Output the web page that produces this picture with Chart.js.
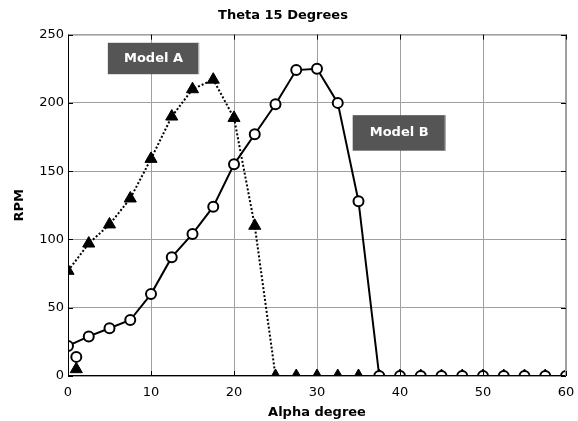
<!DOCTYPE html>
<html>
<head>
<meta charset="utf-8">
<script src="https://cdn.jsdelivr.net/npm/chart.js@4"></script>
<style>
  html, body { margin: 0; padding: 0; background: #fff; }
  #wrap { width: 578px; height: 421px; }
</style>
</head>
<body>
<div id="wrap"><canvas id="grafico"></canvas></div>
<script>
// datos del grafico
var alpha = [0, 2.5, 5, 7.5, 10, 12.5, 15, 17.5, 20, 22.5, 25, 27.5, 30, 32.5, 35, 37.5, 40, 42.5, 45, 47.5, 50, 52.5, 55, 57.5, 60];
var modelA = [77, 97, 111, 130, 159, 190, 210, 217, 189, 110, 0, 0, 0, 0, 0, 0, 0, 0, 0, 0, 0, 0, 0, 0, 0];
var modelB = [22, 29, 35, 41, 60, 87, 104, 124, 155, 177, 199, 224, 225, 200, 128, 0, 0, 0, 0, 0, 0, 0, 0, 0, 0];
// puntos sueltos cerca de alpha = 1
var extraAlpha = [1];
var extraA = [5];
var extraB = [14];

var xTicks = [0, 10, 20, 30, 40, 50, 60];
var yTicks = [0, 50, 100, 150, 200, 250];

var labels = [
  { text: "Model A", x0: 4.8, x1: 15.8, y0: 221, y1: 244 },
  { text: "Model B", x0: 34.3, x1: 45.5, y0: 165, y1: 191 }
];

function pares(xs, ys) {
  return xs.map(function (x, i) { return { x: x, y: ys[i] }; });
}

var fuente = "'DejaVu Sans', Arial, sans-serif";

// cajas de texto "Model A" / "Model B"
var cajas = {
  id: "cajas",
  afterDatasetsDraw: function (chart) {
    var c = chart.ctx, xs = chart.scales.x, ys = chart.scales.y;
    c.save();
    labels.forEach(function (l) {
      var left = xs.getPixelForValue(l.x0), right = xs.getPixelForValue(l.x1);
      var top = ys.getPixelForValue(l.y1), bottom = ys.getPixelForValue(l.y0);
      c.fillStyle = "#555555";
      c.fillRect(left, top, right - left, bottom - top);
      c.strokeStyle = "#bdbdbd";
      c.lineWidth = 1;
      c.beginPath();
      c.moveTo(right - 0.5, top);
      c.lineTo(right - 0.5, bottom);
      c.stroke();
      c.fillStyle = "#ffffff";
      c.font = "bold 13px " + fuente;
      c.textAlign = "center";
      c.textBaseline = "middle";
      c.fillText(l.text, (left + right) / 2, (top + bottom) / 2);
    });
    c.restore();
  }
};

// marco y ticks hacia adentro (estilo matlab)
var marco = {
  id: "marco",
  afterDatasetsDraw: function (chart) {
    var c = chart.ctx, a = chart.chartArea, xs = chart.scales.x, ys = chart.scales.y;
    var l = a.left + 0.5, r = a.right - 0.5, t = a.top + 0.5, b = a.bottom - 0.5;
    c.save();
    c.lineWidth = 1;
    // arriba y derecha en gris
    c.strokeStyle = "#a0a0a0";
    c.beginPath();
    c.moveTo(l, t); c.lineTo(r, t); c.lineTo(r, b);
    c.stroke();
    // izquierda y abajo en negro
    c.strokeStyle = "#000";
    c.beginPath();
    c.moveTo(l, t); c.lineTo(l, b); c.lineTo(r, b);
    c.stroke();
    c.beginPath();
    xTicks.forEach(function (v) {
      var p = Math.round(xs.getPixelForValue(v)) + 0.5;
      c.moveTo(p, a.bottom); c.lineTo(p, a.bottom - 5);
      c.moveTo(p, a.top); c.lineTo(p, a.top + 5);
    });
    yTicks.forEach(function (v) {
      var p = Math.round(ys.getPixelForValue(v)) + 0.5;
      c.moveTo(a.left, p); c.lineTo(a.left + 5, p);
      c.moveTo(a.right, p); c.lineTo(a.right - 5, p);
    });
    c.stroke();
    c.restore();
  }
};

new Chart(document.getElementById("grafico"), {
  type: "line",
  data: {
    datasets: [
      {
        label: "Model B",
        data: pares(alpha, modelB),
        borderColor: "#000",
        borderWidth: 2,
        pointStyle: "circle",
        pointRadius: 5,
        pointBorderWidth: 2,
        pointBackgroundColor: "#fff",
        pointBorderColor: "#000",
        order: 0
      },
      {
        label: "Model B extra",
        data: pares(extraAlpha, extraB),
        showLine: false,
        pointStyle: "circle",
        pointRadius: 5,
        pointBorderWidth: 2,
        pointBackgroundColor: "#fff",
        pointBorderColor: "#000",
        order: 0
      },
      {
        label: "Model A",
        data: pares(alpha, modelA),
        borderColor: "#000",
        borderWidth: 2,
        borderDash: [2, 2],
        pointStyle: "triangle",
        pointRadius: 7,
        pointBorderWidth: 1,
        pointBackgroundColor: "#000",
        pointBorderColor: "#000",
        order: 1
      },
      {
        label: "Model A extra",
        data: pares(extraAlpha, extraA),
        showLine: false,
        pointStyle: "triangle",
        pointRadius: 7,
        pointBorderWidth: 1,
        pointBackgroundColor: "#000",
        pointBorderColor: "#000",
        order: 1
      }
    ]
  },
  options: {
    responsive: true,
    maintainAspectRatio: false,
    animation: false,
    layout: { padding: { left: 0, right: 12, top: 0, bottom: 0 } },
    plugins: {
      legend: { display: false },
      tooltip: { enabled: false },
      title: {
        display: true,
        text: "Theta 15 Degrees",
        color: "#000",
        font: { family: fuente, size: 13, weight: "bold" },
        padding: { top: 8, bottom: 11 }
      }
    },
    scales: {
      x: {
        type: "linear",
        min: 0,
        max: 60,
        afterBuildTicks: function (s) { s.ticks = xTicks.map(function (v) { return { value: v }; }); },
        afterFit: function (s) { s.height = 45; s.paddingRight = 0; },
        grid: { color: "#a0a0a0", lineWidth: 1, drawTicks: false },
        border: { display: false },
        ticks: { color: "#000", font: { family: fuente, size: 13 }, padding: 9, maxRotation: 0 },
        title: {
          display: true,
          text: "Alpha degree",
          color: "#000",
          font: { family: fuente, size: 13, weight: "bold" },
          padding: { top: 0, bottom: 1 }
        }
      },
      y: {
        type: "linear",
        min: 0,
        max: 250,
        afterBuildTicks: function (s) { s.ticks = yTicks.map(function (v) { return { value: v }; }); },
        afterFit: function (s) { s.width = 68; },
        grid: { color: "#a0a0a0", lineWidth: 1, drawTicks: false },
        border: { display: false },
        ticks: { color: "#000", font: { family: fuente, size: 13 }, padding: 4 },
        title: {
          display: true,
          text: "RPM",
          color: "#000",
          font: { family: fuente, size: 13, weight: "bold" },
          padding: { top: 12, bottom: 4 }
        }
      }
    }
  },
  plugins: [cajas, marco]
});
</script>
</body>
</html>
